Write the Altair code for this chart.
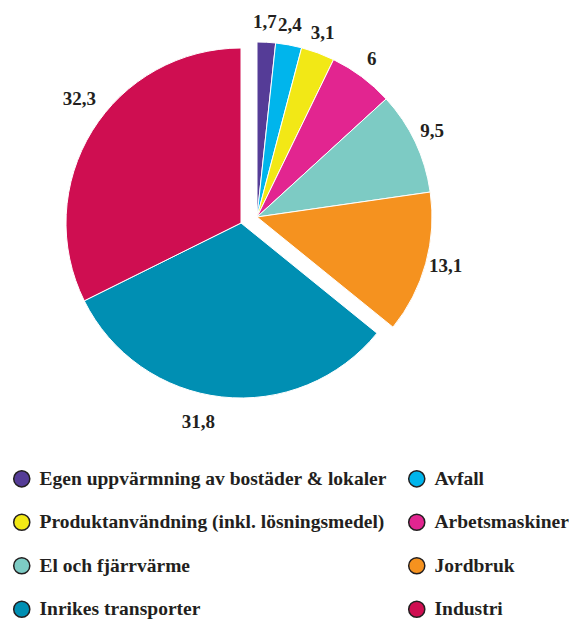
import altair as alt
import pandas as pd

categories = [
    "Egen uppvärmning av bostäder & lokaler",
    "Avfall",
    "Produktanvändning (inkl. lösningsmedel)",
    "Arbetsmaskiner",
    "El och fjärrvärme",
    "Jordbruk",
    "Inrikes transporter",
    "Industri",
]
values = [1.7, 2.4, 3.1, 6, 9.5, 13.1, 31.8, 32.3]
labels = ["1,7", "2,4", "3,1", "6", "9,5", "13,1", "31,8", "32,3"]
groups = ["A", "A", "A", "A", "A", "A", "B", "B"]
colors = ["#553c97", "#00b5ec", "#f2e816", "#e22590", "#7dcbc4", "#f5921f", "#008fb3", "#cf0e51"]

df = pd.DataFrame({
    "category": categories,
    "value": values,
    "label": labels,
    "group": groups,
    "order": list(range(len(values))),
})

# legend is laid out column by column: left column first, then right column
legend_order = categories[0::2] + categories[1::2]
legend_colors = colors[0::2] + colors[1::2]

R = 175
W, H = 561, 611
centers = {"A": (249, 209), "B": (233, 215)}
label_r = {"A": R + 20, "B": R + 29}
label_shift = {"A": -0.002, "B": 0.016}

base = alt.Chart(df).transform_window(
    cum="sum(value)", sort=[alt.SortField("order")], frame=[None, 0]
).transform_joinaggregate(
    total="sum(value)"
).transform_calculate(
    f0="(datum.cum - datum.value) / datum.total",
    f1="datum.cum / datum.total",
    fm="(datum.cum - datum.value / 2) / datum.total",
)

theta_scale = alt.Scale(domain=[0, 1], range=[0, 6.283185307179586])
color_scale = alt.Scale(domain=legend_order, range=legend_colors)

layers = []
for g, (cx, cy) in centers.items():
    sub = base.transform_filter(alt.datum.group == g)
    arc = sub.mark_arc(stroke="white", strokeWidth=1, radius=R).encode(
        theta=alt.Theta("f0:Q", scale=theta_scale),
        theta2="f1:Q",
        x=alt.value(cx),
        y=alt.value(cy),
        color=alt.Color(
            "category:N",
            scale=color_scale,
            legend=alt.Legend(
                title=None,
                orient="none",
                legendX=4,
                legendY=461,
                columns=2,
                columnPadding=18,
                rowPadding=20.5,
                symbolType="circle",
                symbolSize=260,
                symbolStrokeColor="#231f20",
                symbolStrokeWidth=1.5,
                symbolOpacity=1,
                labelFont="Liberation Serif",
                labelFontSize=19.5,
                labelFontWeight="bold",
                labelColor="#231f20",
                labelLimit=500,
                labelOffset=8,
            ) if g == "A" else None,
        ),
    )
    txt = sub.transform_calculate(
        ft=f"datum.fm + ({label_shift[g]})"
    ).mark_text(
        radius=label_r[g], font="Liberation Serif", fontSize=19, fontWeight="bold", color="#231f20"
    ).encode(
        theta=alt.Theta("ft:Q", scale=theta_scale),
        x=alt.value(cx),
        y=alt.value(cy),
        text="label:N",
    )
    layers += [arc, txt]

chart = alt.layer(*layers).properties(
    width=W, height=H, padding=0, autosize=alt.AutoSizeParams(type="none")
).configure_view(stroke=None)

chart.save("out.html", embed_options={"renderer": "svg", "actions": False})
